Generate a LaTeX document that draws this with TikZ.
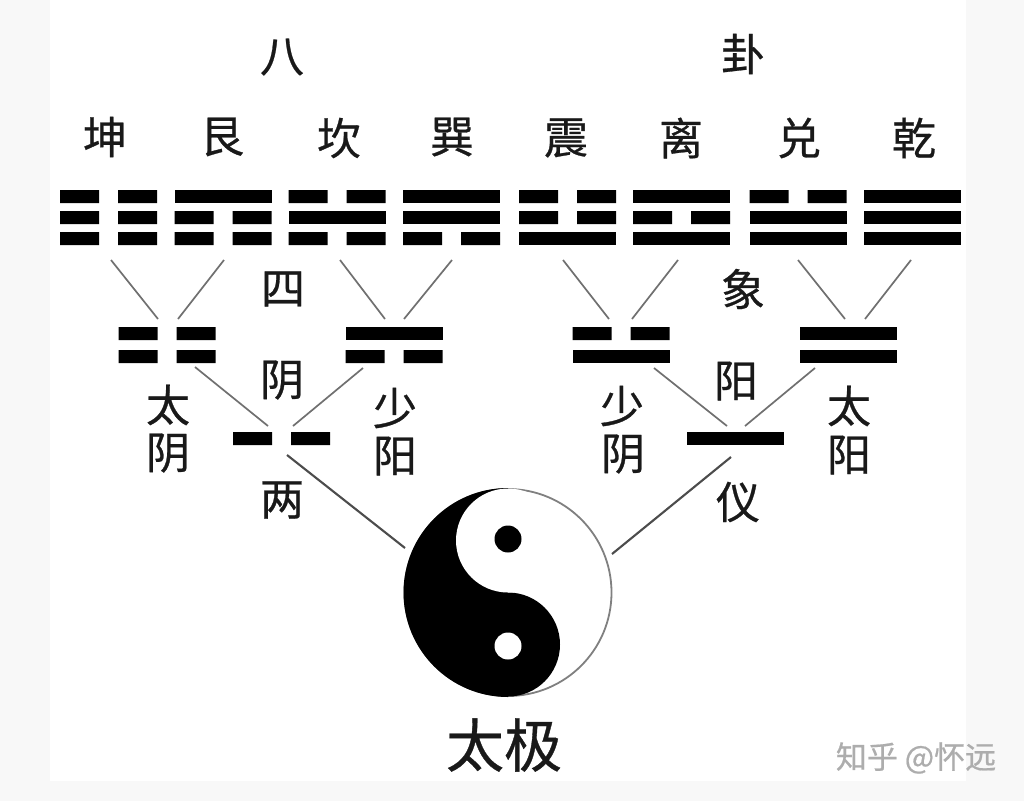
\documentclass[tikz,border=0pt]{standalone}
\usepackage{fontspec}
\setmainfont[FakeBold=0.6]{Noto Sans CJK SC}
\usepackage{xcolor}
\usepackage{tikz}
\definecolor{pagegray}{HTML}{F8F8F8}
\definecolor{linegray}{HTML}{707070}
\tikzset{
  yang/.pic={\fill[black] (-48.5,-6.5) rectangle (48.5,6.5);},
  yin/.pic={\fill[black] (-48.5,-6.5) rectangle (-9.5,6.5) (9.5,-6.5) rectangle (48.5,6.5);},
  zi/.style={inner sep=0pt, font=\fontsize{44}{44}\selectfont, text=black!90},
  link/.style={line width=1.7pt, color=linegray},
  stem/.style={line width=2.1pt, color=black!70},
  disc/.style={circle, inner sep=0pt, minimum size=#1, fill=black}
}
\newcommand{\gua}[4]{\pic at (#1,196.5) {#2}; \pic at (#1,217.5) {#3}; \pic at (#1,238.5) {#4};}
\newcommand{\xiang}[3]{\pic at (#1,333.5) {#2}; \pic at (#1,356.5) {#3};}
\begin{document}
\begin{tikzpicture}[x=1pt, y=-1pt]
\useasboundingbox[fill=pagegray] (0,0) rectangle (1024,801);
\fill[white] (50,0) rectangle (966,781);
% eight trigrams
\node[zi] (ba) at (282,57) {八};
\node[zi] (guazi) at (743,54) {卦};
\node[zi] (kunzi) at (105,137) {坤};
\node[zi] (genzi) at (222,137) {艮};
\node[zi] (kanzi) at (339,138) {坎};
\node[zi] (xunzi) at (452,137) {巽};
\node[zi] (zhenzi) at (566,138) {震};
\node[zi] (lizi) at (681,138) {离};
\node[zi] (duizi) at (799,138) {兑};
\node[zi] (qianzi) at (914,138) {乾};
\gua{108.5}{yin}{yin}{yin}
\gua{223}{yang}{yin}{yin}
\gua{337}{yin}{yang}{yin}
\gua{451.5}{yang}{yang}{yin}
\gua{567.5}{yin}{yin}{yang}
\gua{681.5}{yang}{yin}{yang}
\gua{798}{yin}{yang}{yang}
\gua{912.5}{yang}{yang}{yang}
\coordinate (kun) at (111,260);
\coordinate (gen) at (224,260);
\coordinate (kan) at (340,260);
\coordinate (xun) at (452,260);
\coordinate (zhen) at (563,260);
\coordinate (li) at (678,260);
\coordinate (dui) at (798,260);
\coordinate (qian) at (911,260);
% four images
\node[zi] (si) at (283,289) {四};
\node[zi] (xiangzi) at (743,289) {象};
\xiang{167}{yin}{yin}
\xiang{394}{yang}{yin}
\xiang{621}{yin}{yang}
\xiang{848.5}{yang}{yang}
\coordinate (taiyinL) at (158,319);
\coordinate (taiyinR) at (178,319);
\coordinate (shaoyangL) at (385,319);
\coordinate (shaoyangR) at (404,319);
\coordinate (shaoyinL) at (609,319);
\coordinate (shaoyinR) at (632,319);
\coordinate (taiyangL) at (845,319);
\coordinate (taiyangR) at (865,319);
\draw[link] (kun) -- (taiyinL);
\draw[link] (gen) -- (taiyinR);
\draw[link] (kan) -- (shaoyangL);
\draw[link] (xun) -- (shaoyangR);
\draw[link] (zhen) -- (shaoyinL);
\draw[link] (li) -- (shaoyinR);
\draw[link] (dui) -- (taiyangL);
\draw[link] (qian) -- (taiyangR);
\node[zi] (tai1) at (168,405) {太};
\node[zi] (yin1) at (168,453) {阴};
\node[zi] (shao1) at (395,408) {少};
\node[zi] (yang1) at (395,456) {阳};
\node[zi] (shao2) at (622,406) {少};
\node[zi] (yin2) at (623,454) {阴};
\node[zi] (tai2) at (849,406) {太};
\node[zi] (yang2) at (849,455) {阳};
% two modes
\node[zi] (yinzi) at (282,380) {阴};
\node[zi] (yangzi) at (736,381) {阳};
\node[zi] (liang) at (282,500) {两};
\node[zi] (yi) at (738,502) {仪};
\pic at (281.5,438.5) {yin};
\pic at (735,438.5) {yang};
\coordinate (taiyinO) at (195,367);
\coordinate (shaoyangO) at (363,368);
\coordinate (shaoyinO) at (654,368);
\coordinate (taiyangO) at (815,368);
\coordinate (yinL) at (268,426);
\coordinate (yinR) at (293,426);
\coordinate (yangL) at (727,426);
\coordinate (yangR) at (745,426);
\coordinate (yinO) at (287,455);
\coordinate (yangO) at (731,457);
\draw[link] (taiyinO) -- (yinL);
\draw[link] (shaoyangO) -- (yinR);
\draw[link] (shaoyinO) -- (yangL);
\draw[link] (taiyangO) -- (yangR);
% taiji
\node[circle, inner sep=0pt, minimum size=207pt, draw=black!50, line width=1.8pt] (taiji) at (508,592.5) {};
\begin{scope}
  \clip (400,480) rectangle (508,705);
  \node[disc=209pt] (yinside) at (508,592.5) {};
\end{scope}
\node[disc=104pt] (yinlobe) at (508,644.5) {};
\node[disc=104pt, fill=white] (yanglobe) at (508,540.5) {};
\node[disc=27pt] (yineye) at (508,539) {};
\node[disc=27pt, fill=white] (yangeye) at (508,646) {};
\coordinate (taijiL) at (405,548);
\coordinate (taijiR) at (612,554);
\draw[stem] (yinO) -- (taijiL);
\draw[stem] (yangO) -- (taijiR);
\node[zi, font=\fontsize{58}{58}\selectfont] (taijizi) at (504,745) {太极};
\node[zi, font=\fontsize{31}{31}\selectfont, text=black!32] (mark) at (916,758) {知乎 @怀远};
\end{tikzpicture}
\end{document}
